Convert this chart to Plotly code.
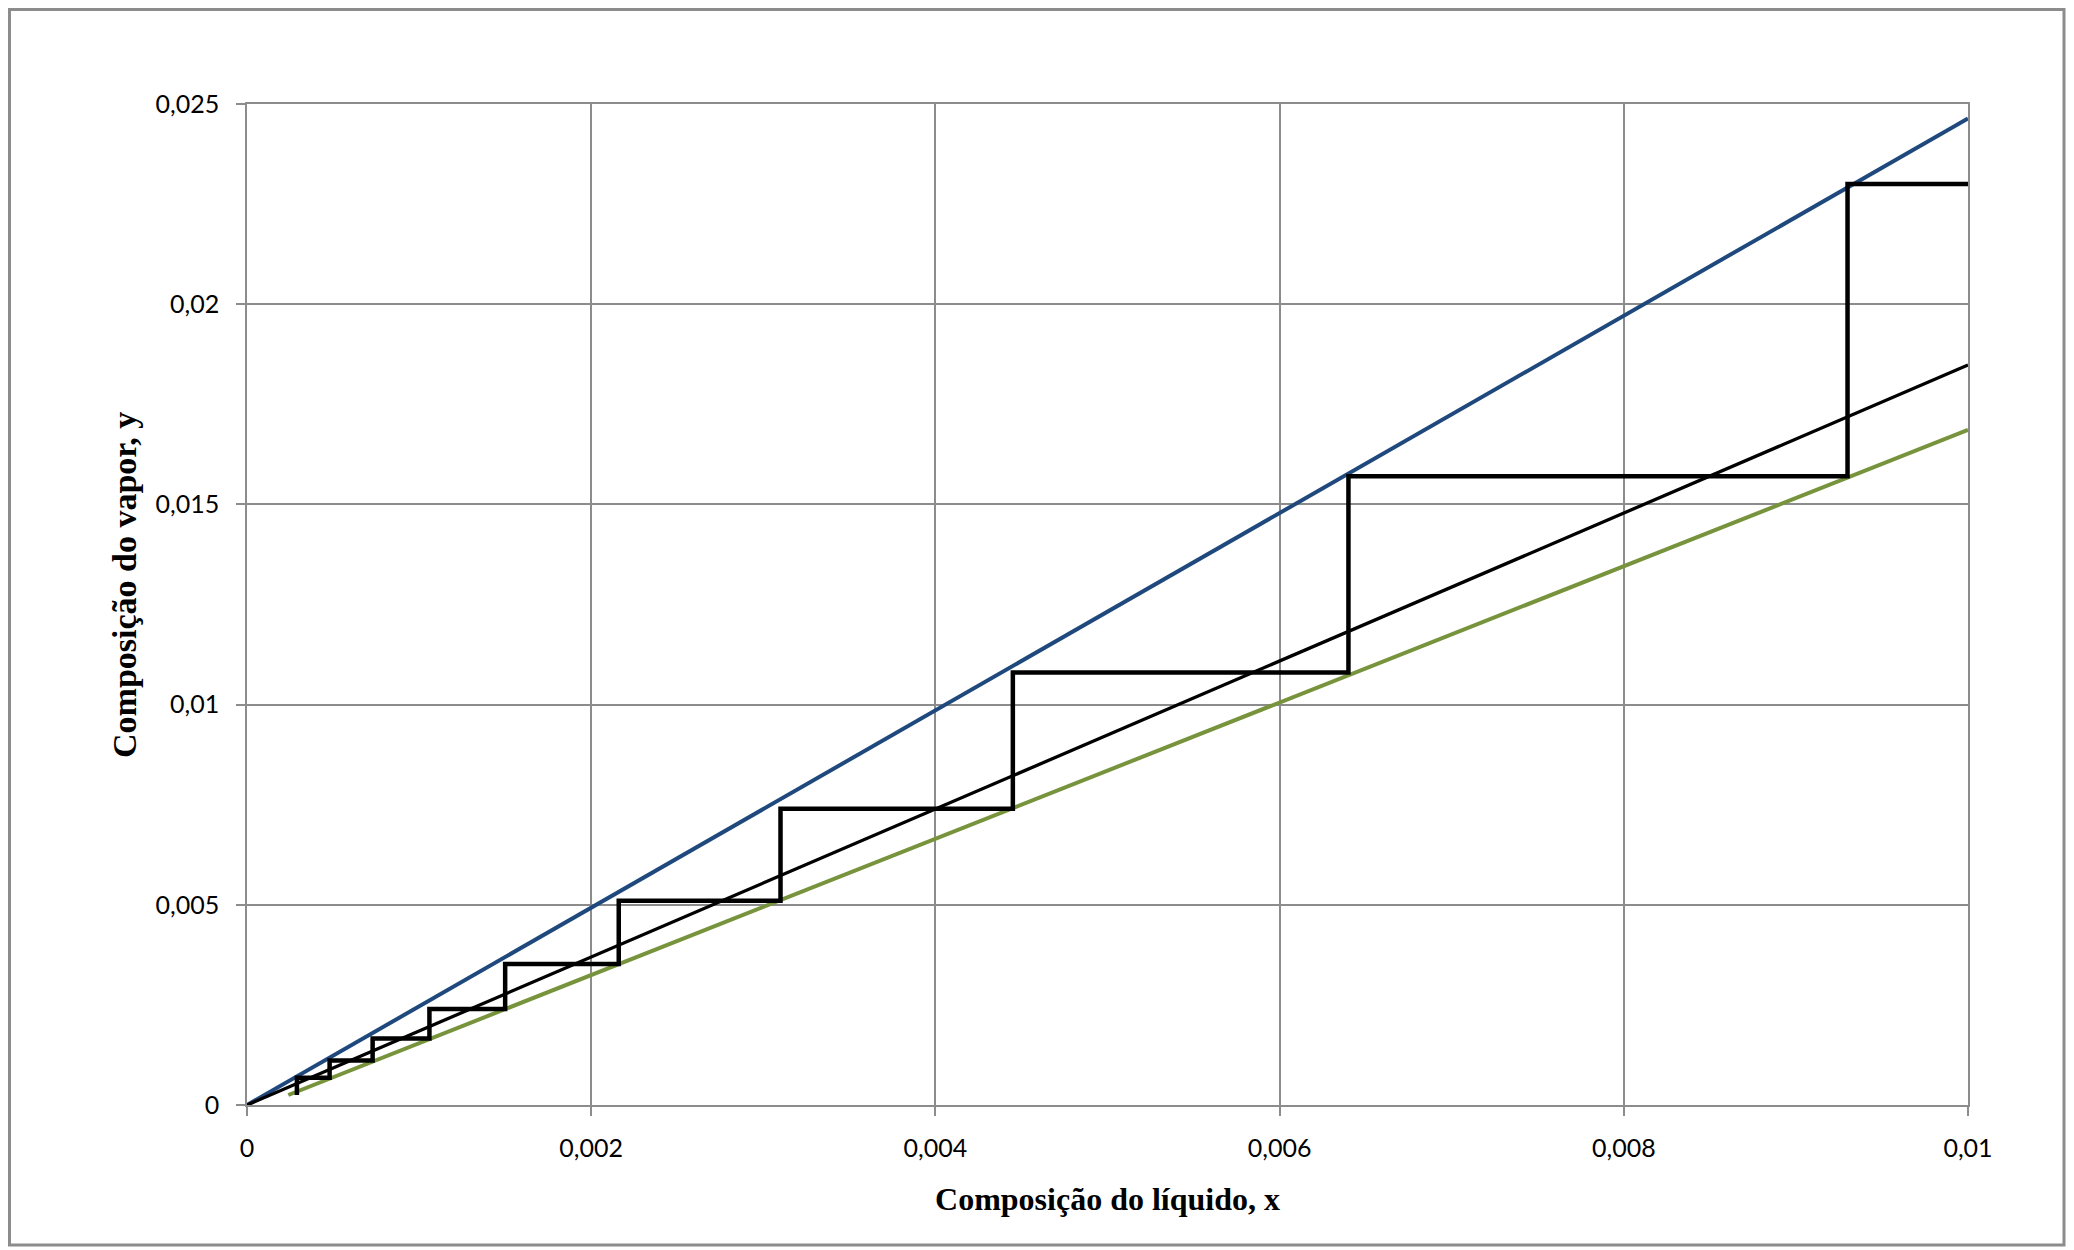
import plotly.graph_objects as go

# Equilibrium line (blue)
eq_x = [0.0, 0.01]
eq_y = [0.0, 0.02464]

# Operating line (black)
op_x = [0.0, 0.01]
op_y = [0.0, 0.01848]

# Green line
gr_x = [0.00024, 0.01]
gr_y = [0.00025, 0.01686]

# Staircase (stages)
st_x = [0.01, 0.0093, 0.0093, 0.0064, 0.0064, 0.00445, 0.00445, 0.0031, 0.0031,
        0.00216, 0.00216, 0.0015, 0.0015, 0.00106, 0.00106, 0.00073, 0.00073,
        0.00048, 0.00048, 0.00029, 0.00029]
st_y = [0.023, 0.023, 0.0157, 0.0157, 0.0108, 0.0108, 0.0074, 0.0074, 0.0051,
        0.0051, 0.00352, 0.00352, 0.0024, 0.0024, 0.00166, 0.00166, 0.00111,
        0.00111, 0.00068, 0.00068, 0.00025]

x_ticks = [0, 0.002, 0.004, 0.006, 0.008, 0.01]
x_labels = ["0", "0,002", "0,004", "0,006", "0,008", "0,01"]
y_ticks = [0, 0.005, 0.01, 0.015, 0.02, 0.025]
y_labels = ["0", "0,005", "0,01", "0,015", "0,02", "0,025"]

x_title = "Composição do líquido, x"
y_title = "Composição do vapor, y"

# page has an 8px body margin, so the figure is 8px smaller than the window
W, H = 2066, 1242
L, R, T, B = 239, 106, 96, 145
pw, ph = W - L - R, H - T - B

fig = go.Figure()
fig.add_trace(go.Scatter(x=eq_x, y=eq_y, mode="lines",
                         line=dict(color="#1F497D", width=4), showlegend=False))
fig.add_trace(go.Scatter(x=gr_x, y=gr_y, mode="lines",
                         line=dict(color="#77933C", width=4), showlegend=False))
fig.add_trace(go.Scatter(x=op_x, y=op_y, mode="lines",
                         line=dict(color="#000000", width=3.3), showlegend=False))
fig.add_trace(go.Scatter(x=st_x, y=st_y, mode="lines",
                         line=dict(color="#000000", width=4.5), showlegend=False))

grid_col = "#8C8C8C"
tick_font = dict(family="Lato, sans-serif", size=25, color="#000000")
title_font = dict(family="Liberation Serif, serif", size=32, color="#000000")

fig.update_layout(
    width=W, height=H,
    margin=dict(l=L, r=R, t=T, b=B, autoexpand=False),
    paper_bgcolor="white", plot_bgcolor="white",
    xaxis=dict(range=[0, 0.01], tickvals=x_ticks, ticktext=x_labels,
               showgrid=True, gridcolor=grid_col, gridwidth=1.5,
               showline=True, linecolor=grid_col, linewidth=1.5, mirror=True,
               ticks="outside", ticklen=9, tickcolor=grid_col, tickwidth=1.5,
               tickfont=tick_font, ticklabelstandoff=11, zeroline=False,
               title=dict(text="<b>" + x_title + "</b>", font=title_font, standoff=27)),
    yaxis=dict(range=[0, 0.025], tickvals=y_ticks, ticktext=y_labels,
               showgrid=True, gridcolor=grid_col, gridwidth=1.5,
               showline=True, linecolor=grid_col, linewidth=1.5, mirror=True,
               ticks="outside", ticklen=9, tickcolor=grid_col, tickwidth=1.5,
               tickfont=tick_font, ticklabelstandoff=12, zeroline=False),
    annotations=[dict(text="<b>" + y_title + "</b>", textangle=-90,
                      xref="paper", yref="paper",
                      x=(116 - L) / pw, y=520 / ph,
                      xanchor="center", yanchor="middle", showarrow=False,
                      font=dict(family="Liberation Serif, serif", size=34, color="#000000"))],
    shapes=[dict(type="rect", xref="paper", yref="paper",
                 x0=(1.5 - L) / pw, x1=(2056 - L) / pw,
                 y0=(H - B - 1237) / ph, y1=(H - B - 1.5) / ph,
                 line=dict(color="#8C8C8C", width=3), fillcolor="rgba(0,0,0,0)",
                 layer="below")],
)

fig.write_html("out.html")
